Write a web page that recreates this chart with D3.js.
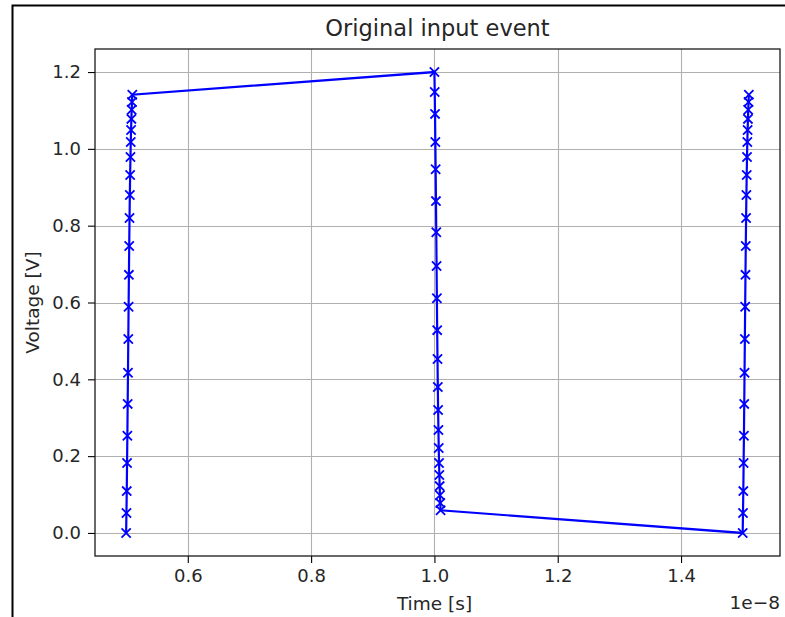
<!DOCTYPE html>
<html>
<head>
<meta charset="utf-8">
<script src="https://cdn.jsdelivr.net/npm/d3@7"></script>
<style>
  body { margin: 0; background: #fff; }
  text { font-family: "DejaVu Sans", sans-serif; fill: #262626; }
</style>
</head>
<body>
<svg id="chart" width="785" height="617"></svg>
<script>
// time in units of 1e-8 s, voltage in V
const riseTime1 = [0.5000, 0.5005, 0.5010, 0.5015, 0.5020, 0.5025, 0.5030, 0.5035, 0.5040, 0.5045, 0.5050,
                   0.5055, 0.5060, 0.5065, 0.5070, 0.5075, 0.5080, 0.5085, 0.5090, 0.5095, 0.5100];
const riseVolt1 = [0.000, 0.052, 0.109, 0.182, 0.253, 0.336, 0.417, 0.505, 0.589, 0.672, 0.747,
                   0.820, 0.880, 0.932, 0.979, 1.018, 1.049, 1.078, 1.102, 1.122, 1.141];
const fallTime  = [1.0000, 1.0005, 1.0010, 1.0015, 1.0020, 1.0025, 1.0030, 1.0035, 1.0040, 1.0045, 1.0050,
                   1.0055, 1.0060, 1.0065, 1.0070, 1.0075, 1.0080, 1.0085, 1.0090, 1.0095, 1.0100];
const fallVolt  = [1.200, 1.148, 1.091, 1.018, 0.947, 0.864, 0.783, 0.695, 0.611, 0.528, 0.453,
                   0.380, 0.320, 0.268, 0.221, 0.182, 0.151, 0.122, 0.098, 0.078, 0.059];
const riseTime2 = [1.5000, 1.5005, 1.5010, 1.5015, 1.5020, 1.5025, 1.5030, 1.5035, 1.5040, 1.5045, 1.5050,
                   1.5055, 1.5060, 1.5065, 1.5070, 1.5075, 1.5080, 1.5085, 1.5090, 1.5095, 1.5100];
const riseVolt2 = [0.000, 0.052, 0.109, 0.182, 0.253, 0.336, 0.417, 0.505, 0.589, 0.672, 0.747,
                   0.820, 0.880, 0.932, 0.979, 1.018, 1.049, 1.078, 1.102, 1.122, 1.141];

const xTicks = [0.6, 0.8, 1.0, 1.2, 1.4];
const yTicks = [0.0, 0.2, 0.4, 0.6, 0.8, 1.0, 1.2];

// one trace
const data = [];
[[riseTime1, riseVolt1], [fallTime, fallVolt], [riseTime2, riseVolt2]].forEach(([t, v]) => {
  t.forEach((d, i) => data.push({t: d, v: v[i]}));
});

const svg = d3.select("#chart");

// figure frame (cropped screenshot: only left and top edges visible)
svg.append("path")
   .attr("d", "M12.5,617 V5.5 H785")
   .attr("fill", "none")
   .attr("stroke", "#000")
   .attr("stroke-width", 2);

const axL = 95, axR = 780, axT = 49, axB = 556;

const tExt = d3.extent(data, d => d.t), vExt = d3.extent(data, d => d.v);
const tPad = (tExt[1] - tExt[0]) * 0.05, vPad = (vExt[1] - vExt[0]) * 0.05;

const x = d3.scaleLinear().domain([tExt[0] - tPad, tExt[1] + tPad]).range([axL, axR]);
const y = d3.scaleLinear().domain([vExt[0] - vPad, vExt[1] + vPad]).range([axB, axT]);

// grid
const grid = svg.append("g").attr("stroke", "#b0b0b0").attr("stroke-width", 1.1);
grid.selectAll("line.gx").data(xTicks).enter().append("line")
    .attr("x1", d => Math.round(x(d)) + 0.5).attr("x2", d => Math.round(x(d)) + 0.5)
    .attr("y1", axT).attr("y2", axB);
grid.selectAll("line.gy").data(yTicks).enter().append("line")
    .attr("y1", d => Math.round(y(d)) + 0.5).attr("y2", d => Math.round(y(d)) + 0.5)
    .attr("x1", axL).attr("x2", axR);

// axes
const fmt = d3.format(".1f");
const xAxis = svg.append("g")
   .attr("transform", `translate(0,${axB})`)
   .call(d3.axisBottom(x).tickValues(xTicks).tickFormat(fmt).tickSize(7).tickPadding(6));
const yAxis = svg.append("g")
   .attr("transform", `translate(${axL},0)`)
   .call(d3.axisLeft(y).tickValues(yTicks).tickFormat(fmt).tickSize(7).tickPadding(7));
[xAxis, yAxis].forEach(a => {
  a.select(".domain").remove();
  a.selectAll("line").attr("stroke", "#000").attr("stroke-width", 1.1);
  a.selectAll("text").style("font-size", "18px").attr("fill", "#262626");
});

// spines
svg.append("rect")
   .attr("x", axL).attr("y", axT)
   .attr("width", axR - axL).attr("height", axB - axT)
   .attr("fill", "none").attr("stroke", "#1a1a1a").attr("stroke-width", 1.3);

// trace
const line = d3.line().x(d => x(d.t)).y(d => y(d.v));
svg.append("path")
   .datum(data)
   .attr("d", line)
   .attr("fill", "none")
   .attr("stroke", "#0000ff")
   .attr("stroke-width", 2.2);

const m = 4.6;
svg.append("g").selectAll("path.mk")
   .data(data).enter().append("path")
   .attr("d", d => `M${x(d.t) - m},${y(d.v) - m}L${x(d.t) + m},${y(d.v) + m}M${x(d.t) - m},${y(d.v) + m}L${x(d.t) + m},${y(d.v) - m}`)
   .attr("stroke", "#0000ff")
   .attr("stroke-width", 1.8)
   .attr("fill", "none");

// labels
svg.append("text")
   .attr("x", (axL + axR) / 2).attr("y", 36)
   .attr("text-anchor", "middle")
   .style("font-size", "22.5px")
   .text("Original input event");

svg.append("text")
   .attr("x", (axL + axR) / 2 - 3).attr("y", 610)
   .attr("text-anchor", "middle")
   .style("font-size", "18.5px")
   .text("Time [s]");

svg.append("text")
   .attr("transform", `translate(39,${(axT + axB) / 2}) rotate(-90)`)
   .attr("text-anchor", "middle")
   .style("font-size", "18.5px")
   .text("Voltage [V]");

svg.append("text")
   .attr("x", axR).attr("y", 609)
   .attr("text-anchor", "end")
   .style("font-size", "18.5px")
   .text("1e\u22128");
</script>
</body>
</html>
